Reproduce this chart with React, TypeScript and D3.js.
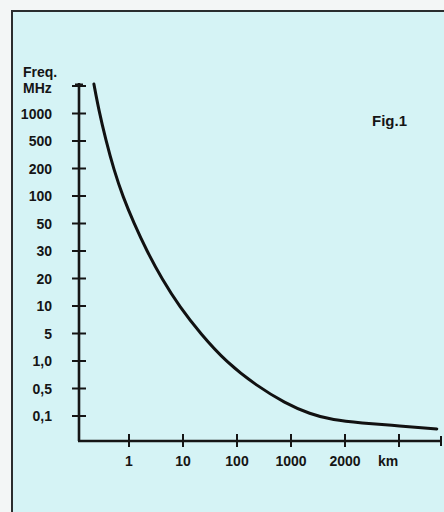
import React, { useEffect, useRef } from 'react'
import * as d3 from 'd3'

// frequency ticks, top to bottom (first tick is unlabelled)
const freqLabels = ['', '1000', '500', '200', '100', '50', '30', '20', '10', '5', '1,0', '0,5', '0,1']
const distLabels = ['1', '10', '100', '1000', '2000', 'km']

// curve, in tick units (x: 1 = "1" tick, y: 0 = "0,1" tick)
const curveX = [0.35, 0.44, 0.57, 0.72, 0.89, 1.09, 1.33, 1.61, 1.94, 2.33, 2.8, 3.37, 3.89, 4.35, 4.78, 5.28, 6.02, 6.7]
const curveY = [12.07, 11.13, 10.04, 8.95, 7.96, 7.02, 6.0, 4.98, 3.96, 2.98, 1.96, 1.09, 0.47, 0.07, -0.15, -0.25, -0.36, -0.47]

const W = 444
const H = 512

export default function App() {
  const ref = useRef<SVGSVGElement | null>(null)

  useEffect(() => {
    const svg = d3.select(ref.current)
    svg.selectAll('*').remove()

    svg.append('rect').attr('width', W).attr('height', H).attr('fill', '#f3f6f6')
    svg.append('rect').attr('x', 12).attr('y', 11).attr('width', W + 20).attr('height', H + 20)
      .attr('fill', '#d5f3f5').attr('stroke', '#2a2d2e').attr('stroke-width', 2)

    const x = d3.scaleLinear().domain([0, 6]).range([75, 399])
    const y = d3.scaleLinear().domain([0, 12]).range([416, 86])
    const x0 = 79
    const y0 = 441
    const xEnd = 441
    const font = '"Liberation Sans", Arial, sans-serif'

    const g = svg.append('g').attr('stroke', '#151515').attr('fill', 'none')
    // axes
    g.append('line').attr('x1', x0).attr('x2', x0).attr('y1', 83).attr('y2', y0).attr('stroke-width', 2.6)
    g.append('line').attr('x1', x0 - 1).attr('x2', xEnd).attr('y1', y0).attr('y2', y0).attr('stroke-width', 2.6)

    // y ticks
    freqLabels.forEach((lab, i) => {
      const yy = y(12 - i)
      g.append('line').attr('x1', x0 - 7).attr('x2', x0 + 7).attr('y1', yy).attr('y2', yy).attr('stroke-width', 2)
      if (lab) {
        svg.append('text').attr('x', 52).attr('y', yy).attr('dy', '0.36em').attr('text-anchor', 'end')
          .attr('font-family', font).attr('font-weight', 'bold').attr('font-size', 14).attr('fill', '#151515').text(lab)
      }
    })
    // top arrow-ish tick
    g.append('line').attr('x1', x0 - 4).attr('x2', x0 + 4).attr('y1', y(12) - 1).attr('y2', y(12) - 1).attr('stroke-width', 3)

    // x ticks
    const tickIdx = [1, 2, 3, 4, 5, 6]
    tickIdx.forEach(i => {
      g.append('line').attr('x1', x(i)).attr('x2', x(i)).attr('y1', y0 - 7).attr('y2', y0 + 6).attr('stroke-width', 2)
    })
    g.append('line').attr('x1', xEnd).attr('x2', xEnd).attr('y1', y0 - 5).attr('y2', y0 + 5).attr('stroke-width', 2)

    distLabels.forEach((lab, i) => {
      svg.append('text').attr('x', x(i + 1) + (lab === 'km' ? -11 : 0)).attr('y', 466).attr('text-anchor', 'middle')
        .attr('font-family', font).attr('font-weight', 'bold').attr('font-size', 14).attr('fill', '#151515').text(lab)
    })

    // axis title and figure label
    const tt = svg.append('g').attr('font-family', font).attr('font-weight', 'bold').attr('fill', '#151515')
    tt.append('text').attr('x', 23).attr('y', 77).attr('font-size', 14).text('Freq.')
    tt.append('text').attr('x', 23).attr('y', 93).attr('font-size', 14).text('MHz')
    tt.append('text').attr('x', 372).attr('y', 126).attr('font-size', 15).text('Fig.1')

    // curve
    const pts = curveX.map((v, i) => [v, curveY[i]] as [number, number])
    const line = d3.line<[number, number]>().x(d => x(d[0])).y(d => y(d[1])).curve(d3.curveBasis)
    svg.append('path').datum(pts).attr('d', line).attr('fill', 'none').attr('stroke', '#111')
      .attr('stroke-width', 3).attr('stroke-linecap', 'round')
  }, [])

  return (
    <div style={{ position: 'fixed', left: 0, top: 0, width: W, height: H }}>
      <svg ref={ref} width={W} height={H} style={{ display: 'block' }} />
    </div>
  )
}
